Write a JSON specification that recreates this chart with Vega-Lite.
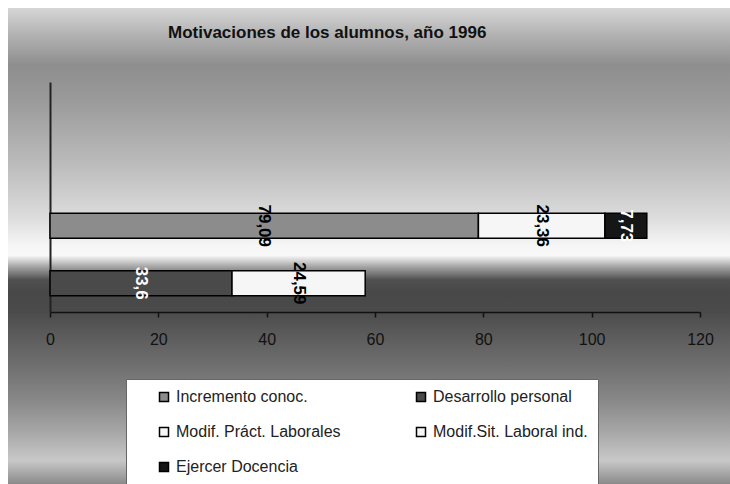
{
  "$schema": "https://vega.github.io/schema/vega-lite/v6.json",
  "width": 722,
  "height": 476,
  "autosize": {"type": "none"},
  "padding": {"left": 8, "top": 8, "right": 0, "bottom": 0},
  "background": "white",
  "title": {
    "text": "Motivaciones de los alumnos, año 1996",
    "anchor": "start",
    "frame": "group",
    "dx": 160,
    "dy": 34,
    "offset": 0,
    "fontSize": 17,
    "font": "Liberation Sans",
    "fontWeight": "bold",
    "color": "#111111"
  },
  "data": {
    "values": [
      {"fila": "C", "serie": "Incremento conoc.", "n": 1, "valor": 79.09},
      {"fila": "C", "serie": "Modif. Práct. Laborales", "n": 3, "valor": 23.36},
      {"fila": "C", "serie": "Ejercer Docencia", "n": 5, "valor": 7.73},
      {"fila": "D", "serie": "Desarrollo personal", "n": 2, "valor": 33.6},
      {"fila": "D", "serie": "Modif.Sit. Laboral ind.", "n": 4, "valor": 24.59}
    ]
  },
  "transform": [
    {"stack": "valor", "groupby": ["fila"], "sort": [{"field": "n", "order": "ascending"}], "as": ["v0", "v1"]},
    {"calculate": "(datum.v0 + datum.v1) / 2", "as": "medio"}
  ],
  "encoding": {
    "y": {
      "field": "fila",
      "type": "nominal",
      "scale": {"domain": ["A", "B", "C", "D"], "range": [74, 304], "paddingInner": 0.565, "paddingOuter": 0.2826},
      "axis": {"orient": "left", "offset": -42, "ticks": false, "labels": false, "title": null, "domainColor": "#222222", "domainWidth": 2, "grid": false}
    }
  },
  "layer": [
    {
      "mark": {"type": "bar", "stroke": "#000000", "strokeWidth": 1.5},
      "encoding": {
        "x": {
          "field": "v0",
          "type": "quantitative",
          "scale": {"domain": [0, 120], "range": [42, 692], "nice": false, "zero": false},
          "axis": {
            "orient": "bottom",
            "offset": -172,
            "values": [0, 20, 40, 60, 80, 100, 120],
            "grid": false,
            "title": null,
            "domainColor": "#111111",
            "domainWidth": 1.5,
            "tickColor": "#111111",
            "tickSize": 5,
            "tickWidth": 1.5,
            "labelFontSize": 16,
            "labelFont": "Liberation Sans",
            "labelColor": "#111111",
            "labelPadding": 14,
            "labelFlush": false
          }
        },
        "x2": {"field": "v1"},
        "color": {
          "field": "serie",
          "type": "nominal",
          "scale": {
            "domain": ["Incremento conoc.", "Desarrollo personal", "Modif. Práct. Laborales", "Modif.Sit. Laboral ind.", "Ejercer Docencia"],
            "range": ["#8c8c8c", "#4a4a4a", "#f6f6f6", "#f6f6f6", "#161616"]
          },
          "legend": {
            "orient": "none",
            "direction": "horizontal",
            "legendX": 118,
            "legendY": 371,
            "columns": 2,
            "gridAlign": "all",
            "columnPadding": 72,
            "rowPadding": 19,
            "padding": 10,
            "fillColor": "white",
            "strokeColor": "#666666",
            "symbolType": "square",
            "symbolSize": 81,
            "symbolStrokeColor": "#000000",
            "symbolStrokeWidth": 1.5,
            "symbolOpacity": 1,
            "labelFontSize": 16,
            "labelFont": "Liberation Sans",
            "labelColor": "#222222",
            "labelOffset": 4,
            "labelLimit": 300,
            "title": " ",
            "titleOrient": "left",
            "titlePadding": 20,
            "titleFontSize": 16
          }
        }
      }
    },
    {
      "mark": {"type": "text", "angle": 90, "fontSize": 17, "fontWeight": "bold", "font": "Liberation Sans", "baseline": "middle", "align": "center"},
      "encoding": {
        "x": {"field": "medio", "type": "quantitative"},
        "text": {"field": "valor", "type": "quantitative", "format": "~g"},
        "color": {
          "condition": {"test": "datum.serie === 'Desarrollo personal' || datum.serie === 'Ejercer Docencia'", "value": "white"},
          "value": "black"
        }
      }
    }
  ],
  "config": {
    "font": "Liberation Sans",
    "locale": {"number": {"decimal": ",", "thousands": ".", "grouping": [3], "currency": ["", " €"]}},
    "view": {
      "stroke": null,
      "fill": {
        "gradient": "linear",
        "x1": 0, "y1": 0, "x2": 0, "y2": 1,
        "stops": [
          {"offset": 0, "color": "#d6d6d6"},
          {"offset": 0.05, "color": "#b6b6b6"},
          {"offset": 0.12, "color": "#8e8e8e"},
          {"offset": 0.193, "color": "#9a9a9a"},
          {"offset": 0.334, "color": "#bdbdbd"},
          {"offset": 0.44, "color": "#dcdcdc"},
          {"offset": 0.5, "color": "#f6f6f6"},
          {"offset": 0.52, "color": "#f8f8f8"},
          {"offset": 0.545, "color": "#a0a0a0"},
          {"offset": 0.571, "color": "#505050"},
          {"offset": 0.595, "color": "#484848"},
          {"offset": 0.634, "color": "#4a4a4a"},
          {"offset": 0.683, "color": "#5a5a5a"},
          {"offset": 0.754, "color": "#707070"},
          {"offset": 0.824, "color": "#888888"},
          {"offset": 0.893, "color": "#a8a8a8"},
          {"offset": 0.95, "color": "#c8c8c8"},
          {"offset": 0.97, "color": "#b0b0b0"},
          {"offset": 1, "color": "#8a8a8a"}
        ]
      }
    }
  }
}
